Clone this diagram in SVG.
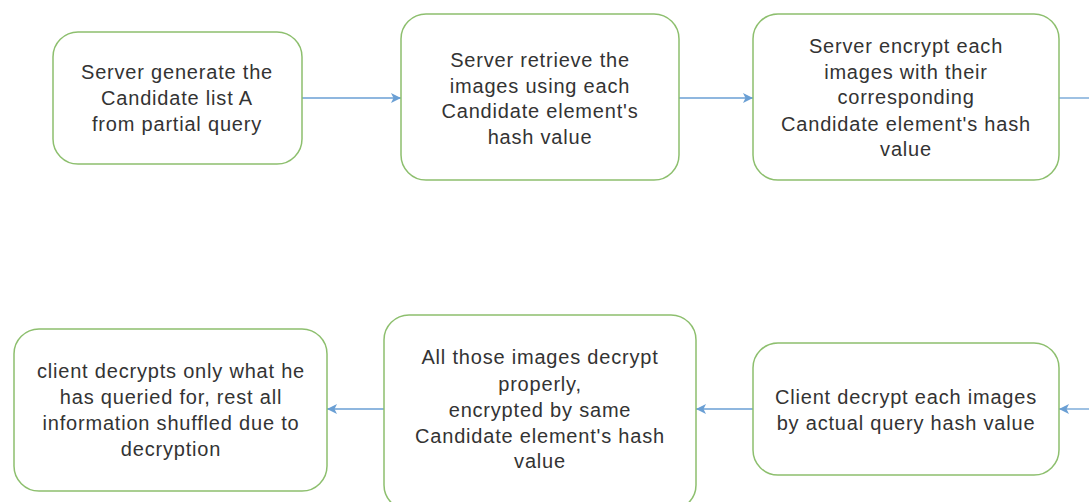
<svg xmlns="http://www.w3.org/2000/svg" width="1089" height="502" viewBox="0 0 1089 502">
<style>
.box{fill:#ffffff;fill-opacity:0.85;stroke:#8dbf6e;stroke-width:1.5}
.t{font-family:"Liberation Sans",Arial,sans-serif;font-size:20px;fill:#333333;text-anchor:middle;letter-spacing:0.8px}
.c{stroke:#6a9fd4;stroke-width:1.3;fill:none;marker-end:url(#ah)}
</style>
<defs>
<marker id="ah" viewBox="0 0 10 10" refX="10" refY="5" markerWidth="10" markerHeight="10" markerUnits="userSpaceOnUse" orient="auto">
<path d="M0,0 L10,5 L0,10 L2.5,5 Z" fill="#6a9fd4"/>
</marker>
</defs>
<rect width="1089" height="502" fill="#ffffff"/>
<g id="connectors">
<line class="c" x1="302" y1="98" x2="401" y2="98"/>
<line class="c" x1="679" y1="98" x2="753" y2="98"/>
<line x1="1059" y1="98" x2="1089" y2="98" stroke="#6a9fd4" stroke-width="1.3"/>
<line class="c" x1="1089" y1="409" x2="1059" y2="409"/>
<line class="c" x1="753" y1="409" x2="696" y2="409"/>
<line class="c" x1="384" y1="409" x2="327" y2="409"/>
</g>
<g id="n1">
<rect class="box" x="53" y="32" width="249" height="132" rx="25"/>
<text class="t" x="177" y="79">Server generate the</text>
<text class="t" x="177" y="105">Candidate list A</text>
<text class="t" x="177" y="131">from partial query</text>
</g>
<g id="n2">
<rect class="box" x="401" y="14" width="278" height="166" rx="25"/>
<text class="t" x="540" y="67">Server retrieve the</text>
<text class="t" x="540" y="93">images using each</text>
<text class="t" x="540" y="118">Candidate element's</text>
<text class="t" x="540" y="144">hash value</text>
</g>
<g id="n3">
<rect class="box" x="753" y="14" width="306" height="166" rx="25"/>
<text class="t" x="906" y="53">Server encrypt each</text>
<text class="t" x="906" y="79">images with their</text>
<text class="t" x="906" y="104">corresponding</text>
<text class="t" x="906" y="131">Candidate element's hash</text>
<text class="t" x="906" y="156">value</text>
</g>
<g id="n4">
<rect class="box" x="753" y="343" width="306" height="132" rx="25"/>
<text class="t" x="906" y="404">Client decrypt each images</text>
<text class="t" x="906" y="430">by actual query hash value</text>
</g>
<g id="n5">
<rect class="box" x="384" y="315" width="312" height="195" rx="25"/>
<text class="t" x="540" y="364">All those images decrypt</text>
<text class="t" x="540" y="391">properly,</text>
<text class="t" x="540" y="417">encrypted by same</text>
<text class="t" x="540" y="443">Candidate element's hash</text>
<text class="t" x="540" y="468">value</text>
</g>
<g id="n6">
<rect class="box" x="14" y="329" width="313" height="162" rx="25"/>
<text class="t" x="171" y="378">client decrypts only what he</text>
<text class="t" x="171" y="404">has queried for, rest all</text>
<text class="t" x="171" y="430">information shuffled due to</text>
<text class="t" x="171" y="456">decryption</text>
</g>
</svg>
